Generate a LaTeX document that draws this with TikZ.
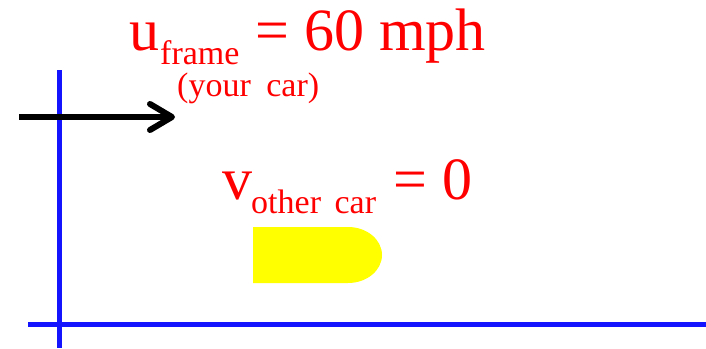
\documentclass[tikz,border=0pt]{standalone}
\usepackage{fontspec}
\setmainfont{Liberation Serif}
\usetikzlibrary{arrows.meta}
\definecolor{axisblue}{RGB}{20,20,255}
\definecolor{lblred}{RGB}{255,0,0}
\definecolor{caryellow}{RGB}{255,255,0}
\tikzset{
  axisline/.style={draw=axisblue, line width=5pt},
  bigtxt/.style={text=lblred, inner sep=0pt, anchor=base west, font=\fontsize{60}{60}\selectfont},
  subtxt/.style={text=lblred, inner sep=0pt, anchor=base west, font=\fontsize{34}{34}\selectfont},
  framearrow/.style={draw=black, line width=6pt, -{Straight Barb[length=22pt,width=26pt,round]}}
}
\begin{document}
\begin{tikzpicture}[x=1pt,y=-1pt]
\useasboundingbox (0,0) rectangle (706,348);
% axes
\coordinate (vtop) at (59,70);
\coordinate (vbot) at (59,348);
\coordinate (hl) at (28,324);
\coordinate (hr) at (706,324);
\draw[axisline] (vtop) -- (vbot);
\draw[axisline] (hl) -- (hr);
% frame arrow
\coordinate (as) at (19,117);
\coordinate (ae) at (175,117);
\draw[framearrow] (as) -- (ae);
% labels
\node[bigtxt] (u) at (129,50) {u};
\node[subtxt] (frame) at (160,64) {frame};
\node[bigtxt] (eq1) at (255,50) {= 60 mph};
\node[subtxt] (your) at (177,96) {(your\hspace{7pt} car)};
\node[bigtxt] (v) at (222,199) {v};
\node[subtxt] (other) at (251,213) {other\hspace{5pt} car};
\node[bigtxt] (eq2) at (393,199) {= 0};
% car
\fill[caryellow] (253,227) -- (348,227) .. controls (366.8,227) and (382,239.5) .. (382,255)
  .. controls (382,270.5) and (366.8,283) .. (348,283) -- (253,283) -- cycle;
\end{tikzpicture}
\end{document}
